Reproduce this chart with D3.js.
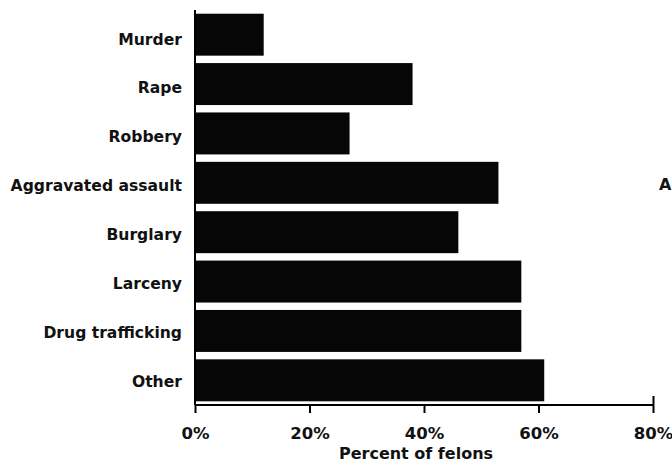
<!DOCTYPE html>
<html>
<head>
<meta charset="utf-8">
<script src="https://cdn.jsdelivr.net/npm/d3@7"></script>
<style>
  body { margin: 0; background: #fff; }
  svg { display: block; }
</style>
</head>
<body>
<div id="chart"></div>
<script>
// data
var categories = ["Murder", "Rape", "Robbery", "Aggravated assault", "Burglary", "Larceny", "Drug trafficking", "Other"];
var percents = [12, 38, 27, 53, 46, 57, 57, 61];
var tickValues = [0, 20, 40, 60, 80];
var axisTitle = "Percent of felons";

var width = 672;
var height = 465;
var fontFamily = "'DejaVu Sans', Verdana, sans-serif";

var svg = d3.select("#chart").append("svg")
    .attr("width", width)
    .attr("height", height);

var x = d3.scaleLinear()
    .domain([0, 80])
    .range([195, 653]);

var y = d3.scaleBand()
    .domain(categories)
    .range([10, 405])
    .paddingInner(0.15)
    .paddingOuter(0.075);

// labels sit on their own spacing in the original
var yLabel = d3.scalePoint()
    .domain(categories)
    .range([39, 381]);

// bars
svg.selectAll("rect.bar")
    .data(categories)
    .enter().append("rect")
    .attr("class", "bar")
    .attr("x", x(0) + 1)
    .attr("y", function(d) { return y(d); })
    .attr("width", function(d, i) { return x(percents[i]) - x(0) - 1; })
    .attr("height", y.bandwidth())
    .style("fill", "#060606");

// category labels
svg.selectAll("text.cat")
    .data(categories)
    .enter().append("text")
    .attr("class", "cat")
    .attr("x", 182)
    .attr("y", function(d) { return yLabel(d); })
    .attr("dy", "0.36em")
    .attr("text-anchor", "end")
    .text(function(d) { return d; })
    .style("font-family", fontFamily)
    .style("font-weight", "bold")
    .style("font-size", "15.6px")
    .style("fill", "#111");

// vertical axis line
svg.append("line")
    .attr("x1", x(0))
    .attr("x2", x(0))
    .attr("y1", 10)
    .attr("y2", 405)
    .style("stroke", "#000")
    .style("stroke-width", "2px");

// bottom axis
var xAxis = d3.axisBottom(x)
    .tickValues(tickValues)
    .tickSize(8)
    .tickPadding(14)
    .tickFormat(function(d) { return d + "%"; });

var gx = svg.append("g")
    .attr("transform", "translate(0,405)")
    .call(xAxis);

gx.select(".domain")
    .attr("d", "M" + x(0) + ",0H" + x(80))
    .style("stroke", "#000")
    .style("stroke-width", "2px");

gx.selectAll(".tick line")
    .style("stroke", "#000")
    .style("stroke-width", "2px");

// last tick runs through the axis
gx.selectAll(".tick line")
    .filter(function(d) { return d === 80; })
    .attr("y1", -9);

gx.selectAll(".tick text")
    .style("font-family", fontFamily)
    .style("font-weight", "bold")
    .style("font-size", "16.5px")
    .style("fill", "#111");

// axis title
svg.append("text")
    .attr("x", 416)
    .attr("y", 459)
    .attr("text-anchor", "middle")
    .text(axisTitle)
    .style("font-family", fontFamily)
    .style("font-weight", "bold")
    .style("font-size", "16px")
    .style("fill", "#111");

// stray letter at the right edge (rest of it is off the page)
svg.append("text")
    .attr("x", 659)
    .attr("y", 190)
    .text("A")
    .style("font-family", fontFamily)
    .style("font-weight", "bold")
    .style("font-size", "16px")
    .style("fill", "#111");
</script>
</body>
</html>
